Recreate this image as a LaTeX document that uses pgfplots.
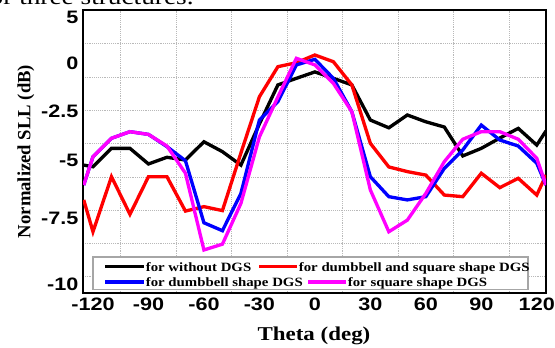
\documentclass[border=0pt]{standalone}
\usepackage{fontspec}
\setmainfont{Liberation Serif}
\newfontfamily\tickfont[FakeStretch=1.2]{Liberation Sans}
\newfontfamily\widserif[FakeStretch=1.17]{Liberation Serif}
\usepackage{pgfplots}
\usepackage{pgfplotstable}
\pgfplotsset{compat=1.18}

\definecolor{curveblack}{RGB}{0,0,0}
\definecolor{curvered}{RGB}{255,0,0}
\definecolor{curveblue}{RGB}{0,0,255}
\definecolor{curvemagenta}{RGB}{255,0,255}

% Normalized side lobe level (dB) against scan angle theta (deg)
\pgfplotstableread{
theta  nodgs  both   dumb   square
-125   -5.22  -6.72  -6.08  -6.08
-120   -5.29  -8.02  -4.83  -4.83
-110   -4.40  -5.72  -3.88  -3.88
-100   -4.40  -7.34  -3.54  -3.54
-90    -5.17  -5.72  -3.68  -3.68
-80    -4.86  -5.72  -4.31  -4.28
-70    -5.00  -7.20  -5.03  -5.57
-60    -4.06  -7.01  -7.68  -8.71
-50    -4.57  -7.18  -7.98  -8.49
-40    -5.22  -4.64  -6.44  -6.87
-30    -3.14  -1.74  -2.94  -3.81
-20    -1.13  -0.19  -1.99  -1.75
-10    -0.79   0.03  -0.10   0.51
0      -0.46   0.87   0.40  -0.10
10     -0.79   0.14  -0.79  -1.05
20     -1.13  -1.13  -2.51  -2.51
30     -2.94  -4.14  -5.72  -6.29
40     -3.34  -5.30  -6.58  -8.02
50     -2.68  -5.50  -6.72  -7.58
60     -3.03  -5.65  -6.58  -6.44
70     -3.30  -6.51  -5.36  -5.07
80     -4.79  -6.58  -4.48  -3.93
90     -4.40  -5.57  -3.20  -3.54
100    -3.87  -6.19  -3.97  -3.54
110    -3.37  -5.79  -4.28  -3.93
120    -4.23  -6.51  -5.14  -4.91
125    -3.50  -5.65  -6.08  -6.08
}\sll

\newcommand\legfont{\widserif\bfseries\fontsize{9.5}{11}\selectfont}

\begin{document}
\begin{tikzpicture}
\clip (-62.25pt,-40.5pt) rectangle (354pt,219.75pt);
\node[anchor=base west, inner sep=0, font=\widserif\fontsize{17.5}{20}\selectfont]
  at (-77pt,216pt) {for three structures.};
\begin{axis}[
  scale only axis, width=347.25pt, height=212.25pt,
  xmin=-125.4, xmax=125, ymin=-10.34, ymax=5.76,
  % the dB scale is stretched piecewise between its labelled values
  y coord trafo/.code={\pgfmathparse{(#1>=0)*9.2*(#1)
      + (#1<0)*(#1>=-5)*19.4*(#1)
      + (#1<-5)*(#1>=-7.5)*(-97+23.2*(#1+5))
      + (#1<-7.5)*(-155+26.4*(#1+7.5))}},
  xtick={-120,-90,-60,-30,0,30,60,90,120},
  xticklabels={-120,-90,-60,-30,0,30,60,90,120},
  ytick={5,0,-2.5,-5,-7.5,-10},
  yticklabels={5,0,-2.5,-5,-7.5,-10},
  minor xtick={-105,-75,-45,-15,15,45,75,105},
  minor ytick={2.17,-0.72,-2.42,-4.12,-5.73,-7.16,-8.45,-9.73},
  xminorgrids, yminorgrids,
  minor grid style={gray!55, densely dotted, line width=0.6pt},
  major tick length=0pt, minor tick length=0pt,
  axis line style={line width=1.6pt},
  tick label style={font=\tickfont\bfseries\fontsize{13.5}{14}\selectfont},
  xlabel={Theta (deg)},
  xlabel style={at={(axis description cs:0.4989,0)}, anchor=center, yshift=-32.25pt,
    font=\widserif\bfseries\fontsize{14.7}{16}\selectfont},
  ylabel={Normalized SLL (dB)},
  ylabel style={at={(axis description cs:-0.1231,0.5)}, anchor=center,
    font=\bfseries\fontsize{14}{16}\selectfont},
  every axis plot/.append style={line width=2.5pt},
]
\addplot[curveblack]   table[x=theta, y=nodgs]  {\sll};
\addplot[curvered]     table[x=theta, y=both]   {\sll};
\addplot[curveblue]    table[x=theta, y=dumb]   {\sll};
\addplot[curvemagenta] table[x=theta, y=square] {\sll};
\end{axis}
% legend
\draw[gray!70, line width=0.8pt, fill=white] (7.5pt,2.5pt) rectangle (333.75pt,27pt);
\node[anchor=base west, inner sep=0, font=\legfont] at (16.5pt,16.5pt)
  {\textcolor{curveblack}{\rule[2.4pt]{29.25pt}{2.3pt}}\hspace{1.2pt}for without DGS};
\node[anchor=base west, inner sep=0, font=\legfont] at (132pt,16.5pt)
  {\textcolor{curvered}{\rule[2.4pt]{28.5pt}{2.3pt}}\hspace{1.2pt}for dumbbell and square shape DGS};
\node[anchor=base west, inner sep=0, font=\legfont] at (16.5pt,4.7pt)
  {\textcolor{curveblue}{\rule[2.4pt]{29.25pt}{2.3pt}}\hspace{1.2pt}for dumbbell shape DGS};
\node[anchor=base west, inner sep=0, font=\legfont] at (168.75pt,4.7pt)
  {\textcolor{curvemagenta}{\rule[2.4pt]{28.5pt}{2.3pt}}\hspace{1.2pt}for square shape DGS};
\end{tikzpicture}
\end{document}
